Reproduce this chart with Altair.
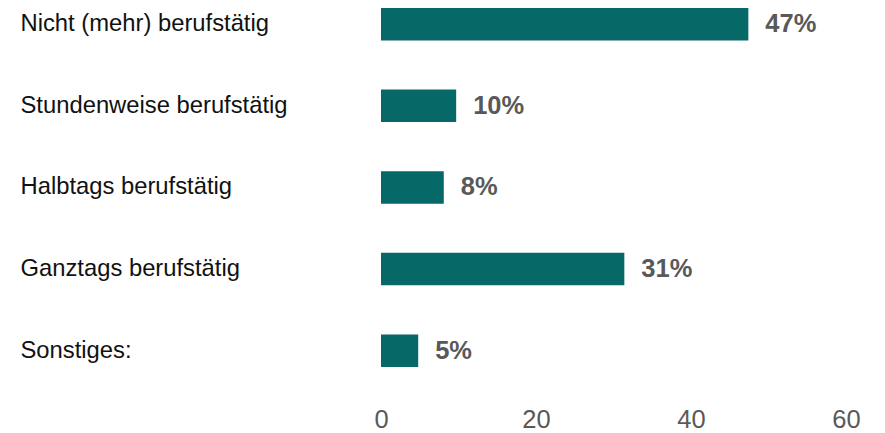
import altair as alt
import pandas as pd

categories = ["Nicht (mehr) berufstätig", "Stundenweise berufstätig", "Halbtags berufstätig",
              "Ganztags berufstätig", "Sonstiges:"]
values = [47.4, 9.7, 8.1, 31.4, 4.8]
labels = ["47%", "10%", "8%", "31%", "5%"]
x_ticks = [0, 20, 40, 60]

df = pd.DataFrame({"cat": categories, "val": values, "lab": labels})

FONT = "Liberation Sans"

y_enc = alt.Y(
    "cat:N", sort=categories,
    scale=alt.Scale(paddingInner=0.602, paddingOuter=0),
    axis=alt.Axis(title=None, labelAlign="left", labelPadding=361, ticks=False, tickSize=0,
                  domain=False, labelFontSize=23.8, labelColor="#111111", labelFont=FONT,
                  labelLimit=400),
)
x_enc = alt.X(
    "val:Q",
    scale=alt.Scale(domain=[0, 60], nice=False),
    axis=alt.Axis(values=x_ticks, title=None, grid=False, domain=False, ticks=False, tickSize=0,
                  labelFontSize=25.5, labelColor="#595959", labelFont=FONT, labelPadding=41,
                  labelFlush=False, labelBaseline="top"),
)

base = alt.Chart(df)
bars = base.mark_bar(color="#066867").encode(y=y_enc, x=x_enc)
text = base.mark_text(align="left", baseline="middle", dx=17, fontSize=25.5, fontWeight="bold",
                      color="#595959", font=FONT).encode(y=alt.Y("cat:N", sort=categories),
                                                         x="val:Q", text="lab:N")

chart = (bars + text).properties(
    width=465, height=358.9,
    autosize=alt.AutoSizeParams(type="none"),
    padding={"left": 373, "top": 0, "right": 31, "bottom": 80},
).configure_view(stroke=None)

chart.save("out.html", embed_options={"renderer": "svg", "actions": False})
